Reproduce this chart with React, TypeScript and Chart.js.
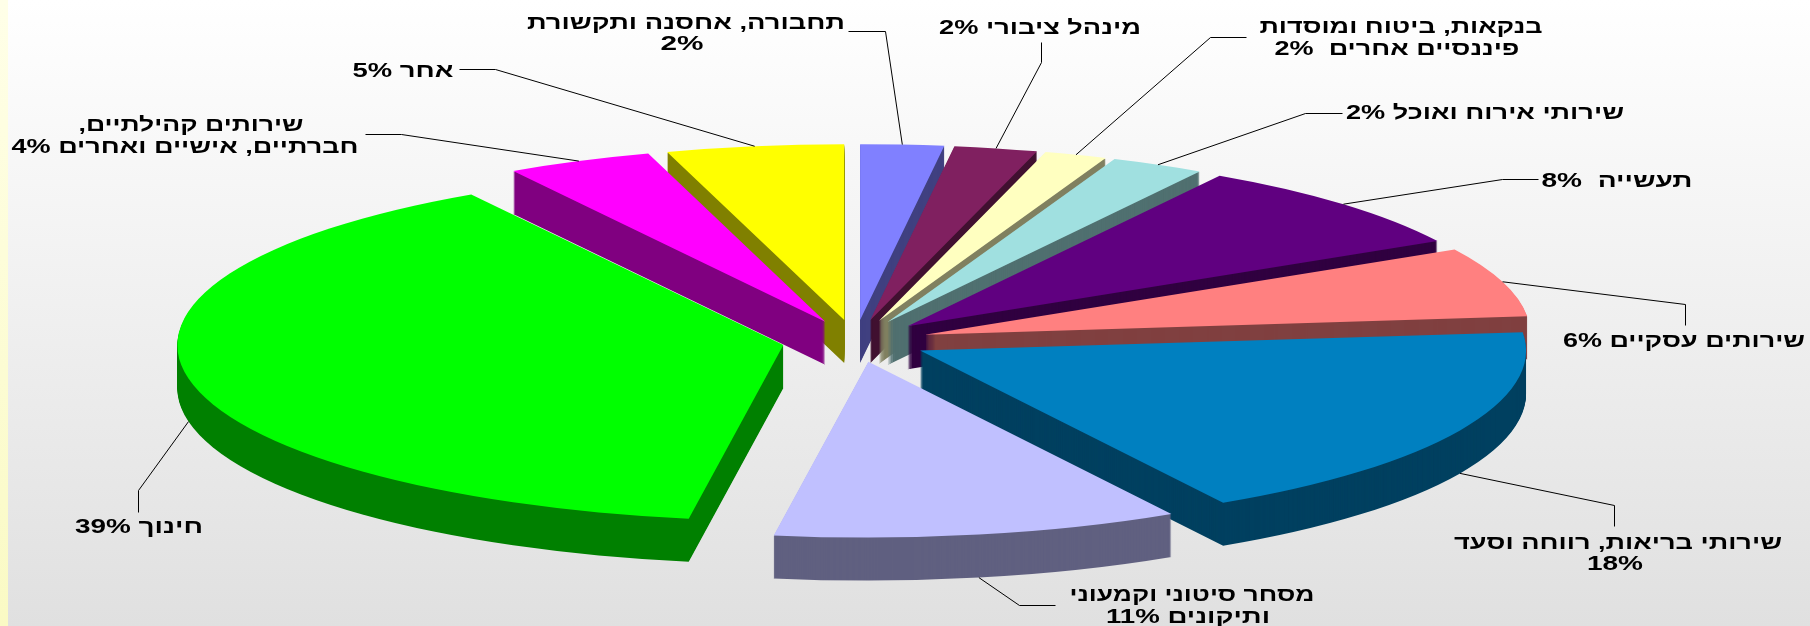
import React, { useEffect, useRef } from "react";
import Chart from "chart.js/auto";

const W = 1810;
const H = 626;

// Data, clockwise from 12 o'clock. Percent shares.
const categories = [
  "תחבורה, אחסנה ותקשורת",
  "מינהל ציבורי",
  "בנקאות, ביטוח ומוסדות פיננסיים אחרים",
  "שירותי אירוח ואוכל",
  "תעשייה",
  "שירותים עסקיים",
  "שירותי בריאות, רווחה וסעד",
  "מסחר סיטוני וקמעוני ותיקונים",
  "חינוך",
  "שירותים קהילתיים, חברתיים, אישיים ואחרים",
  "אחר",
];
const shares = [2.22, 2.22, 1.67, 2.5, 8.33, 6.39, 18.33, 10.83, 38.89, 3.89, 4.72];
const sliceColors = [
  "#8080FF", "#802060", "#FFFFC0", "#A0E0E0", "#600080", "#FF8080",
  "#0080C0", "#C0C0FF", "#00FF00", "#FF00FF", "#FFFF00",
];
const wallColors = [
  "#404080", "#401030", "#808060", "#507070", "#300040", "#804040",
  "#004060", "#606080", "#008000", "#800080", "#808000",
];

// Text of each data label, line by line.
const labelLines = [
  ["תחבורה, אחסנה ותקשורת", "2%"],
  ["מינהל ציבורי 2%"],
  ["בנקאות, ביטוח ומוסדות", "פיננסיים אחרים  2%"],
  ["שירותי אירוח ואוכל 2%"],
  ["תעשייה  8%"],
  ["שירותים עסקיים 6%"],
  ["שירותי בריאות, רווחה וסעד", "18%"],
  ["מסחר סיטוני וקמעוני", "ותיקונים 11%"],
  ["חינוך 39%"],
  ["שירותים קהילתיים,", "חברתיים, אישיים ואחרים 4%"],
  ["אחר 5%"],
];

// Layout of labels: per line [centre x, baseline, width]; then the two free leader points.
const labelLayout = [
  { lines: [[686, 29, 318], [682, 50, 43]], leader: [[848, 31], [885, 31]] },
  { lines: [[1040, 34, 202]], leader: [[1041, 42], [1041, 62]] },
  { lines: [[1401, 33, 283], [1397, 55, 245]], leader: [[1246, 37], [1210, 37]] },
  { lines: [[1485, 119, 278]], leader: [[1342, 113], [1305, 113]] },
  { lines: [[1617, 187, 151]], leader: [[1538, 179], [1502, 179]] },
  { lines: [[1684, 347, 242]], leader: [[1685, 325], [1685, 304]] },
  { lines: [[1618, 549, 328], [1615, 570, 56]], leader: [[1614, 526], [1614, 505]] },
  { lines: [[1192, 601, 245], [1188, 623, 164]], leader: [[1055, 605], [1019, 605]] },
  { lines: [[139, 533, 128]], leader: [[138, 512], [138, 490]] },
  { lines: [[191, 131, 225], [185, 153, 347]], leader: [[365, 134], [401, 134]] },
  { lines: [[403, 77, 101]], leader: [[459, 69], [495, 69]] },
];

const TILT = 0.29;
const DEPTH = 43;
const EXPLODE = 73;
const RADIUS = 606;
const FONT = 'bold 20px "Liberation Sans", Arial, sans-serif';

function drawExtruded(ctx: any, arc: any, index: number, cx: number, cy: number) {
  const mid = (arc.startAngle + arc.endAngle) / 2;
  const dx = Math.cos(mid) * EXPLODE;
  const dy = Math.sin(mid) * EXPLODE;
  const saved = arc.options;
  const paint = (color: string, drop: number) => {
    arc.options = {
      backgroundColor: color,
      borderColor: color,
      borderWidth: 0,
      offset: 0,
      spacing: 0,
      circular: true,
      borderAlign: "center",
    };
    ctx.save();
    ctx.translate(cx, cy + drop);
    ctx.scale(1, TILT);
    ctx.translate(-cx, -cy);
    ctx.translate(dx, dy);
    arc.draw(ctx);
    ctx.restore();
  };
  for (let d = DEPTH; d >= 1; d--) paint(wallColors[index], d);
  paint(sliceColors[index], 0);
  arc.options = saved;
}

const pie3d = {
  id: "pie3d",
  beforeDraw(chart: any) {
    const { ctx } = chart;
    const bg = ctx.createLinearGradient(0, 0, 0, H);
    bg.addColorStop(0, "#FFFFFF");
    bg.addColorStop(1, "#E0E0E0");
    ctx.fillStyle = bg;
    ctx.fillRect(0, 0, W, H);
    const strip = ctx.createLinearGradient(0, 0, 0, H);
    strip.addColorStop(0, "#FFFFE8");
    strip.addColorStop(1, "#FAFAC4");
    ctx.fillStyle = strip;
    ctx.fillRect(0, 0, 8, H);
  },
  beforeDatasetDraw(chart: any, args: any) {
    const { ctx } = chart;
    const arcs = args.meta.data;
    const order = arcs
      .map((arc: any, i: number) => ({ arc, i, mid: (arc.startAngle + arc.endAngle) / 2 }))
      .sort((a: any, b: any) => Math.sin(a.mid) - Math.sin(b.mid));
    order.forEach(({ arc, i }: any) => drawExtruded(ctx, arc, i, arc.x, arc.y));
    return false;
  },
  afterDatasetsDraw(chart: any) {
    const { ctx } = chart;
    const arcs = chart.getDatasetMeta(0).data;
    ctx.save();
    ctx.strokeStyle = "#000000";
    ctx.lineWidth = 1;
    ctx.fillStyle = "#000000";
    ctx.font = FONT;
    ctx.direction = "rtl";
    ctx.textAlign = "center";
    ctx.textBaseline = "alphabetic";
    arcs.forEach((arc: any, i: number) => {
      const mid = (arc.startAngle + arc.endAngle) / 2;
      const rim = RADIUS + EXPLODE;
      const ex = arc.x + Math.cos(mid) * rim;
      const s = Math.sin(mid);
      const ey = arc.y + s * rim * TILT + (s > 0 ? DEPTH : 0);
      const { lines, leader } = labelLayout[i];
      ctx.beginPath();
      ctx.moveTo(leader[0][0] + 0.5, leader[0][1] + 0.5);
      ctx.lineTo(leader[1][0] + 0.5, leader[1][1] + 0.5);
      ctx.lineTo(ex, ey);
      ctx.stroke();
      labelLines[i].forEach((line, n) => {
        const [cx, base, width] = lines[n];
        const stretch = width / ctx.measureText(line).width;
        ctx.save();
        ctx.translate(cx, base);
        ctx.scale(stretch, 1);
        ctx.fillText(line, 0, 0);
        ctx.restore();
      });
    });
    ctx.restore();
  },
};

export default function App() {
  const ref = useRef<HTMLCanvasElement>(null);
  useEffect(() => {
    const chart = new Chart(ref.current as HTMLCanvasElement, {
      type: "pie",
      data: {
        labels: categories,
        datasets: [{ data: shares, backgroundColor: sliceColors, borderWidth: 0 }],
      },
      options: {
        animation: false,
        responsive: false,
        radius: RADIUS,
        // chart centre at x 855, y 341
        layout: { padding: { right: 100, top: 56 } },
        plugins: { legend: { display: false }, tooltip: { enabled: false } },
      },
      plugins: [pie3d],
    } as any);
    return () => chart.destroy();
  }, []);
  return (
    <div style={{ position: "fixed", left: 0, top: 0, width: W, height: H, overflow: "hidden" }}>
      <canvas ref={ref} width={W} height={H} style={{ display: "block" }} />
    </div>
  );
}
